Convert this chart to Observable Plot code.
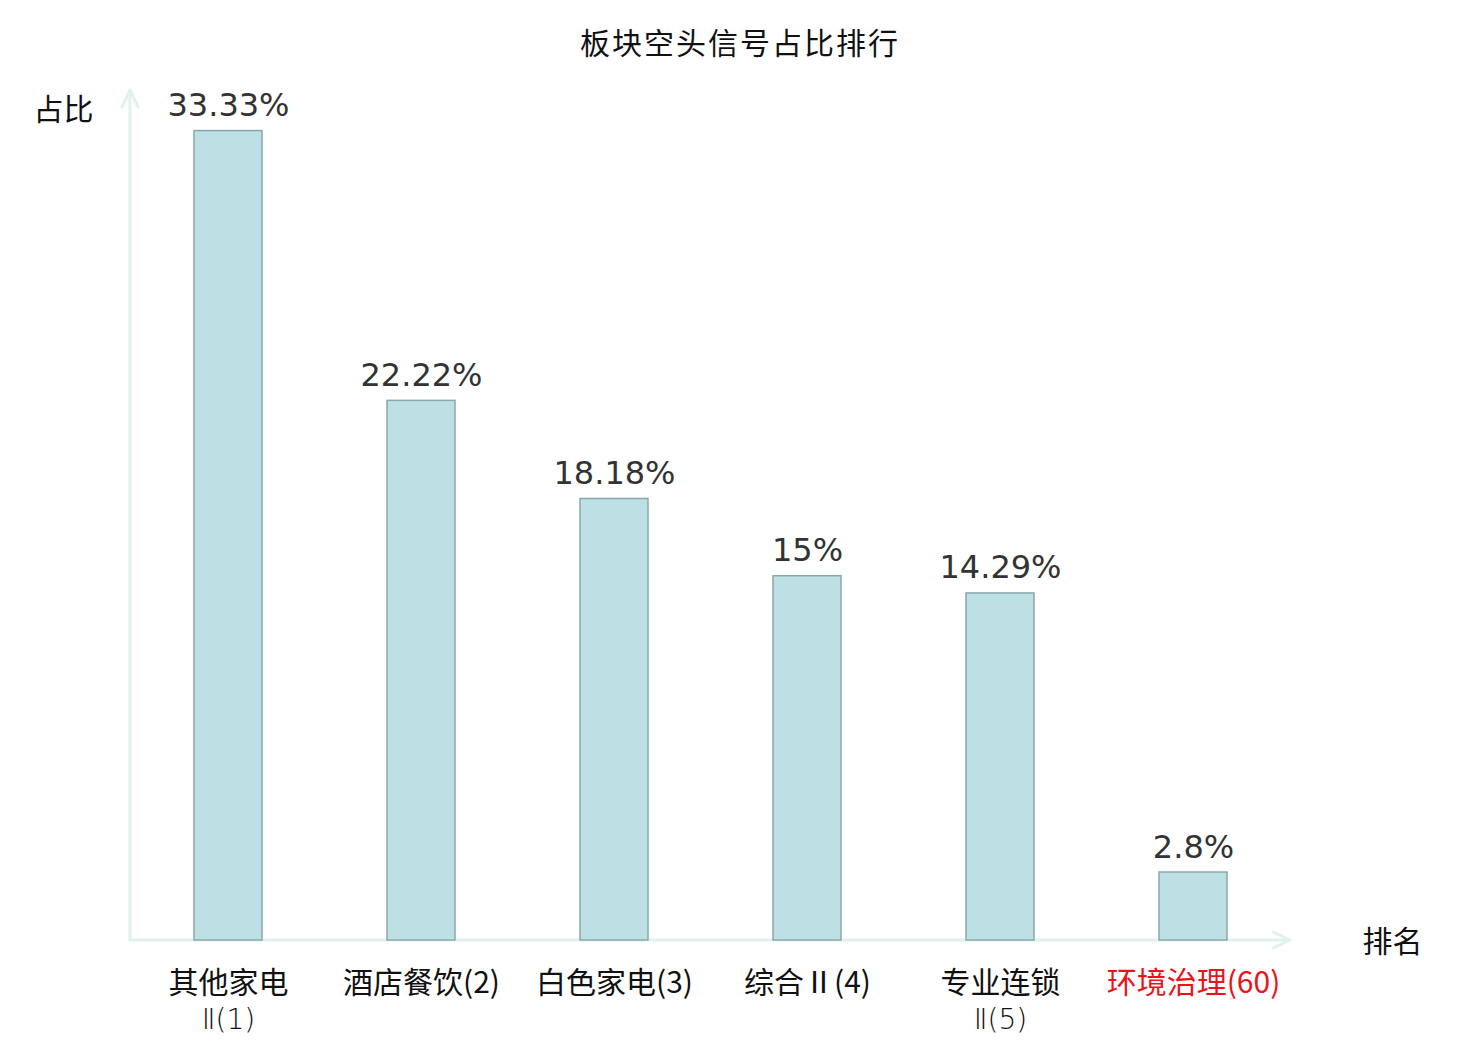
<!DOCTYPE html>
<html>
<head>
<meta charset="utf-8">
<script src="https://cdn.jsdelivr.net/npm/d3@7"></script>
<script src="https://cdn.jsdelivr.net/npm/@observablehq/plot@0.6"></script>
<style>
  html, body { margin: 0; padding: 0; background: #fff; }
  #chart { width: 1480px; height: 1040px; }
</style>
</head>
<body>
<div id="chart"></div>
<script>
const titleText = "板块空头信号占比排行";
const categories = ["其他家电Ⅱ(1)", "酒店餐饮(2)", "白色家电(3)", "综合Ⅱ(4)", "专业连锁Ⅱ(5)", "环境治理(60)"];
const tickLine1 = ["其他家电", "酒店餐饮(2)", "白色家电(3)", "综合Ⅱ(4)", "专业连锁", "环境治理(60)"];
const tickLine2 = ["Ⅱ(1)", "", "", "", "Ⅱ(5)", ""];
const values = [33.33, 22.22, 18.18, 15, 14.29, 2.8];
const valueLabels = ["33.33%", "22.22%", "18.18%", "15%", "14.29%", "2.8%"];
const highlight = [false, false, false, false, false, true];
const yAxisName = "占比";
const xAxisName = "排名";

const data = categories.map((c, i) => ({
  cat: c, t1: tickLine1[i], t2: tickLine2[i], value: values[i], label: valueLabels[i], hi: highlight[i]
}));

const axisColor = "#dff2ef";

function axesMark(index, scales, values, dimensions, context) {
  const svgNS = "http://www.w3.org/2000/svg";
  const g = document.createElementNS(svgNS, "g");
  const y0 = scales.y(0);
  const yTop = scales.y(35);
  const left = dimensions.marginLeft;
  const right = dimensions.width - dimensions.marginRight;
  const mk = (tag, attrs) => {
    const e = document.createElementNS(svgNS, tag);
    for (const k in attrs) e.setAttribute(k, attrs[k]);
    g.appendChild(e);
    return e;
  };
  const common = {stroke: axisColor, "stroke-width": 3, fill: "none", "stroke-linecap": "round", "stroke-linejoin": "round"};
  mk("line", {x1: left, y1: y0, x2: right, y2: y0, ...common});
  mk("polyline", {points: `${right - 17},${y0 - 8} ${right},${y0} ${right - 17},${y0 + 8}`, ...common});
  mk("line", {x1: left, y1: y0, x2: left, y2: yTop, ...common});
  mk("polyline", {points: `${left - 8},${yTop + 17} ${left},${yTop} ${left + 8},${yTop + 17}`, ...common});
  return g;
}

const plot = Plot.plot({
  width: 1480,
  height: 1040,
  marginLeft: 130,
  marginRight: 190,
  marginTop: 90,
  marginBottom: 100,
  x: {type: "band", domain: categories, paddingInner: 0.65, paddingOuter: 0.325, axis: null},
  y: {domain: [0, 35], axis: null},
  style: {fontFamily: "'Noto Sans CJK SC', 'DejaVu Sans', sans-serif", background: "#fff", overflow: "visible"},
  marks: [
    axesMark,
    Plot.barY(data, {x: "cat", y: "value", fill: "#bce0e3", stroke: "#8aa8a9", strokeWidth: 1.5}),
    Plot.text(data, {x: "cat", y: "value", text: "label", dy: -15, lineAnchor: "bottom",
      fill: "#333333", fontSize: 32, fontFamily: "'DejaVu Sans', sans-serif"}),
    Plot.text(data, {x: "cat", y: 0, text: "t1", dy: 43, lineAnchor: "middle",
      fill: d => d.hi ? "#e8141a" : "#111111", fontSize: 30}),
    Plot.text(data.filter(d => d.t2), {x: "cat", y: 0, text: "t2", dy: 88, lineAnchor: "bottom",
      fill: d => d.hi ? "#e8141a" : "#111111", fontSize: 28, fontWeight: 300,
      fontFamily: "'DejaVu Sans', sans-serif"}),
    Plot.text([yAxisName], {frameAnchor: "top-left", text: d => d, dx: -97, dy: 20, textAnchor: "start", lineAnchor: "middle", fontSize: 30, fill: "#111"}),
    Plot.text([xAxisName], {frameAnchor: "bottom-right", text: d => d, dx: 72, dy: 2, textAnchor: "start", lineAnchor: "middle", fontSize: 30, fill: "#111"})
  ]
});

const wrap = document.getElementById("chart");
wrap.style.position = "relative";
const title = document.createElement("div");
title.textContent = titleText;
title.style.cssText = "position:absolute;top:19px;left:0;width:1480px;text-align:center;font:30px 'Noto Sans CJK SC', sans-serif;color:#111;letter-spacing:2px;";
plot.style.position = "absolute";
plot.style.top = "0";
plot.style.left = "0";
wrap.appendChild(plot);
wrap.appendChild(title);
</script>
</body>
</html>
